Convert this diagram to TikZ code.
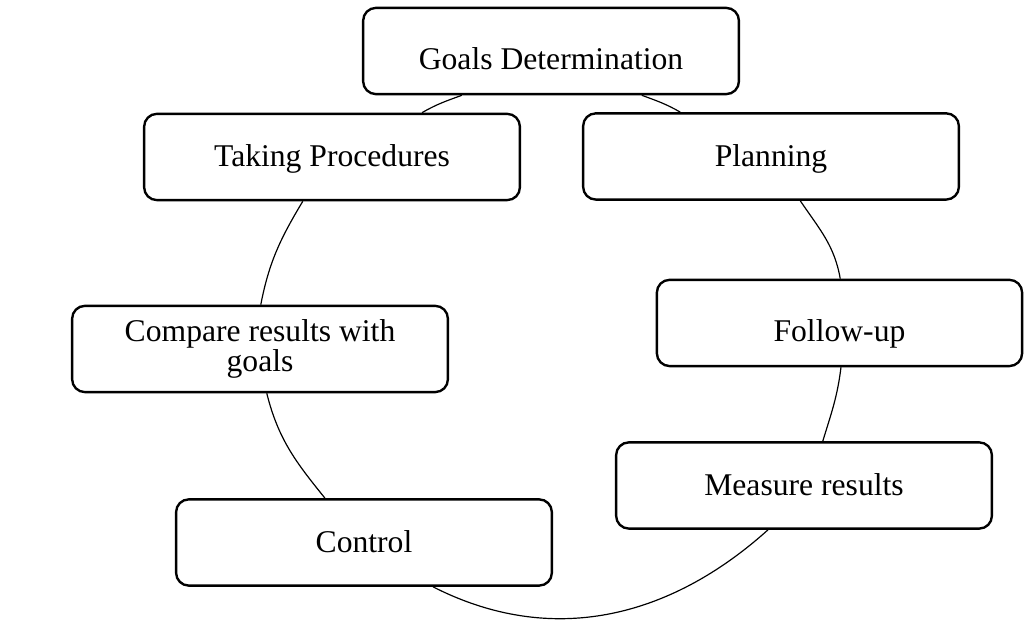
\documentclass[tikz,border=0pt]{standalone}
\usepackage{fontspec}
\setmainfont{Liberation Serif}

\begin{document}
\begin{tikzpicture}[every node/.style={align=center},
stage/.style={draw, line width=0.9pt, rounded corners=0.17cm, fill=white, inner sep=0pt,
 minimum width=5.01cm, minimum height=1.15cm, font=\fontsize{12}{11.4}\selectfont,
 text height=10pt, text depth=2.4pt},
low/.style={text height=16.8pt},
link/.style={line width=0.45pt}]
%================================================================
%	Frame
\useasboundingbox (0,0) rectangle (13.693,8.293);

%================================================================
%	Nodes
\node[style=stage, low] (goals) at (7.347,7.613) {Goals Determination};
\node[style=stage] (taking) at (4.427,6.2) {Taking Procedures};
\node[style=stage] (planning) at (10.28,6.207) {Planning};
%----------------------------------------------------------------
\node[style=stage, text height={}, text depth={}] (compare) at (3.467,3.64) {Compare results with\\goals};
\node[style=stage, low, minimum width=4.87cm] (follow) at (11.193,3.987) {Follow-up};
%----------------------------------------------------------------
\node[style=stage] (control) at (4.853,1.06) {Control};
\node[style=stage] (measure) at (10.72,1.82) {Measure results};

%================================================================
%	Lines
\draw[link] ([xshift=-1.19cm]goals.south) to[out=200,in=30] ([xshift=1.2cm]taking.north);
\draw[link] ([xshift=-0.39cm]taking.south) to[out=239,in=79] ([xshift=0.01cm]compare.north);
\draw[link] ([xshift=0.09cm]compare.south) to[out=284,in=129] ([xshift=-0.52cm]control.north);
\draw[link] ([xshift=0.92cm]control.south) to[out=-27,in=222] ([xshift=-0.48cm]measure.south);
\draw[link] ([xshift=0.25cm]measure.north) to[out=73,in=263] ([xshift=0.02cm]follow.south);
\draw[link] ([xshift=0.01cm]follow.north) to[out=100,in=-56] ([xshift=0.39cm]planning.south);
\draw[link] ([xshift=-1.21cm]planning.north) to[out=150,in=-20] ([xshift=1.21cm]goals.south);
%================================================================
\end{tikzpicture}
\end{document}
